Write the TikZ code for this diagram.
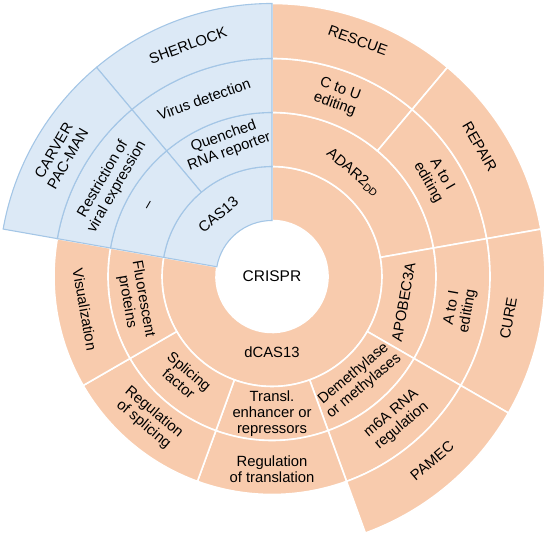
\documentclass[tikz,border=0pt]{standalone}
\usepackage{fontspec}
\setmainfont{Liberation Sans}
\definecolor{orfill}{HTML}{F8CBAD}
\definecolor{blfill}{HTML}{DCE9F6}
\definecolor{blline}{HTML}{A4C6E6}
\newcommand\ringsector[5]{\path[#5] (#1:#3pt) arc[start angle=#1,end angle=#2,radius=#3pt] -- (#2:#4pt) arc[start angle=#2,end angle=#1,radius=#4pt] -- cycle;}
\begin{document}
\begin{tikzpicture}[x=1pt,y=1pt,
  orsec/.style={fill=orfill,draw=white,line width=1.6pt},
  blsec/.style={fill=blfill,draw=blline,line width=1.1pt},
  lbl/.style={align=center,inner sep=0pt,font=\fontsize{14.8}{16.2}\selectfont}]
\useasboundingbox (0,0) rectangle (547,534);
\begin{scope}[shift={(272,257.5)}]
% orange sectors
\ringsector{-190}{90}{56}{110}{orsec}
\ringsector{10}{90}{110}{164}{orsec}
\ringsector{-30}{10}{110}{164}{orsec}
\ringsector{-70}{-30}{110}{164}{orsec}
\ringsector{-110}{-70}{110}{164}{orsec}
\ringsector{-150}{-110}{110}{164}{orsec}
\ringsector{-190}{-150}{110}{164}{orsec}
\ringsector{50}{90}{164}{218}{orsec}
\ringsector{10}{50}{164}{218}{orsec}
\ringsector{-30}{10}{164}{218}{orsec}
\ringsector{-70}{-30}{164}{218}{orsec}
\ringsector{-110}{-70}{164}{218}{orsec}
\ringsector{-150}{-110}{164}{218}{orsec}
\ringsector{-190}{-150}{164}{218}{orsec}
\ringsector{50}{90}{218}{273}{orsec}
\ringsector{10}{50}{218}{273}{orsec}
\ringsector{-30}{10}{218}{273}{orsec}
\ringsector{-70}{-30}{218}{273}{orsec}
% blue sectors
\ringsector{90}{170}{56}{110}{blsec}
\ringsector{90}{130}{110}{164}{blsec}
\ringsector{130}{170}{110}{164}{blsec}
\ringsector{90}{130}{164}{218}{blsec}
\ringsector{130}{170}{164}{218}{blsec}
\ringsector{90}{130}{218}{273}{blsec}
\ringsector{130}{170}{218}{273}{blsec}
% labels
\node[lbl,font=\fontsize{15.5}{17}\selectfont] (crispr) at (0,0) {CRISPR};
\node[lbl,rotate=40] (cas) at (131:82) {CAS13};
\node[lbl] (dcas) at (-90:76) {dCAS13};
\node[lbl,rotate=20] (quenched) at (109:140) {Quenched\\RNA reporter};
\node[lbl,rotate=60] (dash) at (150:141) {–};
\node[lbl,rotate=-40] (adar) at (52:132) {ADAR2\textsubscript{DD}};
\node[lbl,rotate=80] (apobec) at (-11:134) {APOBEC3A};
\node[lbl,rotate=40] (demeth) at (-50:135) {Demethylase\\or methylases};
\node[lbl] (transl) at (-90:137) {Transl.\\enhancer or\\repressors};
\node[lbl,rotate=-40] (splicing) at (-131:134) {Splicing\\factor};
\node[lbl,rotate=-80] (fluor) at (-170:139) {Fluorescent\\proteins};
\node[lbl,rotate=20] (virus) at (111:190) {Virus detection};
\node[lbl,rotate=60] (restr) at (150:187) {Restriction of\\viral expression};
\node[lbl,rotate=-20] (ctou) at (70:191) {C to U\\editing};
\node[lbl,rotate=-60] (atoia) at (31:190) {A to I\\editing};
\node[lbl,rotate=80] (atoib) at (-10:191) {A to I\\editing};
\node[lbl,rotate=40] (msix) at (-49:190) {m6A RNA\\regulation};
\node[lbl] (regtrans) at (-90:193) {Regulation\\of translation};
\node[lbl,rotate=-40] (regspl) at (-131:188) {Regulation\\of splicing};
\node[lbl,rotate=-80] (visual) at (-170:190) {Visualization};
\node[lbl,rotate=20] (sherlock) at (110:246) {SHERLOCK};
\node[lbl,rotate=60] (carver) at (150:244) {CARVER\\PAC-MAN};
\node[lbl,rotate=-20] (rescue) at (70:251) {RESCUE};
\node[lbl,rotate=-60] (repair) at (32:245) {REPAIR};
\node[lbl,rotate=80] (cure) at (-10:240) {CURE};
\node[lbl,rotate=40] (pamec) at (-49:244) {PAMEC};
\end{scope}
\end{tikzpicture}
\end{document}
